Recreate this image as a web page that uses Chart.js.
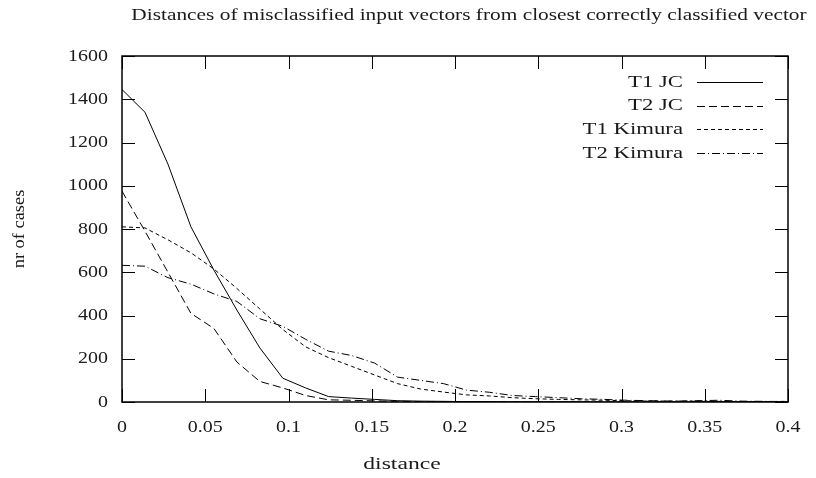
<!DOCTYPE html>
<html>
<head>
<meta charset="utf-8">
<script src="https://cdn.jsdelivr.net/npm/chart.js@4"></script>
<style>
  html, body { margin: 0; padding: 0; background: #fff; }
  #wrap { width: 816px; height: 478px; }
</style>
</head>
<body>
<div id="wrap"><canvas id="graph" width="816" height="478"></canvas></div>
<script>
const titleText = "Distances of misclassified input vectors from closest correctly classified vector";
const xTitle = "distance";
const yTitle = "nr of cases";

// distance bins (x)
const distances = [0, 0.0138, 0.0276, 0.0414, 0.0552, 0.069, 0.0828, 0.0966, 0.1103, 0.1241,
  0.1379, 0.1517, 0.1655, 0.1793, 0.1931, 0.2069, 0.2207, 0.2345, 0.2483, 0.2621,
  0.2759, 0.2897, 0.3034, 0.3172, 0.331, 0.3448, 0.3586, 0.3724, 0.3862, 0.4];

const t1JC = [1445, 1340, 1100, 810, 610, 425, 250, 110, 65, 25, 18, 12, 6, 4, 3, 2, 2, 1, 1, 1,
  1, 0, 0, 0, 0, 1, 2, 1, 0, 0];
const t2JC = [975, 790, 600, 410, 340, 185, 95, 65, 30, 10, 8, 5, 3, 2, 2, 1, 1, 1, 0, 0,
  0, 0, 0, 0, 1, 1, 0, 0, 0, 1];
const t1Kimura = [810, 805, 750, 690, 615, 525, 430, 335, 255, 205, 165, 125, 85, 60, 46, 33, 28, 20, 15, 12,
  10, 8, 6, 5, 4, 4, 3, 2, 2, 3];
const t2Kimura = [632, 628, 575, 545, 500, 465, 385, 350, 290, 235, 215, 180, 115, 100, 85, 55, 45, 30, 25, 20,
  15, 12, 8, 6, 4, 6, 8, 4, 3, 2];

const xTicks = [0, 0.05, 0.1, 0.15, 0.2, 0.25, 0.3, 0.35, 0.4];
const xTickLabels = ["0", "0.05", "0.1", "0.15", "0.2", "0.25", "0.3", "0.35", "0.4"];
const yTicks = [0, 200, 400, 600, 800, 1000, 1200, 1400, 1600];

const FONT = '"Liberation Serif", "DejaVu Serif", serif';

function series(label, values, dash) {
  return {
    label,
    data: values.map((v, i) => ({ x: distances[i], y: v })),
    borderColor: "#000",
    borderWidth: 1,
    borderDash: dash,
    pointRadius: 0,
    fill: false,
    tension: 0,
  };
}

// the reference font is wider than Times, so stretch horizontally a bit
function wideText(ctx, text, x, y, size, stretch, align) {
  ctx.save();
  ctx.font = size + "px " + FONT;
  ctx.textAlign = align;
  ctx.textBaseline = "middle";
  ctx.translate(x, y);
  ctx.scale(stretch, 1);
  ctx.fillText(text, 0, 0);
  ctx.restore();
}

// gnuplot-like frame: inward ticks on all four sides, labels, legend, titles
const framePlugin = {
  id: "frame",
  afterDraw(chart) {
    const ctx = chart.ctx;
    const a = chart.chartArea;
    const xs = chart.scales.x;
    const ys = chart.scales.y;
    const tick = 13;
    ctx.save();
    ctx.strokeStyle = "#000";
    ctx.lineWidth = 1.5;
    ctx.strokeRect(a.left, a.top, a.right - a.left, a.bottom - a.top);
    ctx.lineWidth = 1;
    ctx.beginPath();
    xTicks.forEach((t) => {
      const px = Math.round(xs.getPixelForValue(t)) + 0.5;
      ctx.moveTo(px, a.bottom); ctx.lineTo(px, a.bottom - tick);
      ctx.moveTo(px, a.top); ctx.lineTo(px, a.top + tick);
    });
    yTicks.forEach((t) => {
      const py = Math.round(ys.getPixelForValue(t)) + 0.5;
      ctx.moveTo(a.left, py); ctx.lineTo(a.left + tick, py);
      ctx.moveTo(a.right, py); ctx.lineTo(a.right - tick, py);
    });
    ctx.stroke();

    ctx.fillStyle = "#1a1a1a";
    yTicks.forEach((t) => {
      wideText(ctx, String(t), a.left - 14, ys.getPixelForValue(t), 17.5, 1.14, "right");
    });
    xTicks.forEach((t, i) => {
      wideText(ctx, xTickLabels[i], xs.getPixelForValue(t), a.bottom + 25, 17.5, 1.14, "center");
    });

    wideText(ctx, titleText, 469, 15, 17.5, 1.22, "center");
    wideText(ctx, xTitle, 402, 464, 17.5, 1.35, "center");
    ctx.save();
    ctx.translate(19, 229);
    ctx.rotate(-Math.PI / 2);
    wideText(ctx, yTitle, 0, 0, 17.5, 1.05, "center");
    ctx.restore();

    // legend
    chart.data.datasets.forEach((ds, i) => {
      const y = 82 + i * 23.7;
      wideText(ctx, ds.label, 683, y, 17.5, 1.3, "right");
      ctx.beginPath();
      ctx.setLineDash(ds.borderDash || []);
      ctx.moveTo(697, Math.round(y) + 0.5);
      ctx.lineTo(763, Math.round(y) + 0.5);
      ctx.stroke();
    });
    ctx.setLineDash([]);
    ctx.restore();
  },
};

new Chart(document.getElementById("graph"), {
  type: "line",
  data: {
    datasets: [
      series("T1 JC", t1JC, []),
      series("T2 JC", t2JC, [8, 4]),
      series("T1 Kimura", t1Kimura, [4, 3]),
      series("T2 Kimura", t2Kimura, [8, 3, 1, 3]),
    ],
  },
  options: {
    responsive: false,
    animation: false,
    devicePixelRatio: 1,
    layout: { padding: { left: 122, top: 56, right: 28, bottom: 76 } },
    scales: {
      x: { type: "linear", min: 0, max: 0.4, display: false },
      y: { type: "linear", min: 0, max: 1600, display: false },
    },
    plugins: {
      legend: { display: false },
      tooltip: { enabled: false },
    },
  },
  plugins: [framePlugin],
});
</script>
</body>
</html>
